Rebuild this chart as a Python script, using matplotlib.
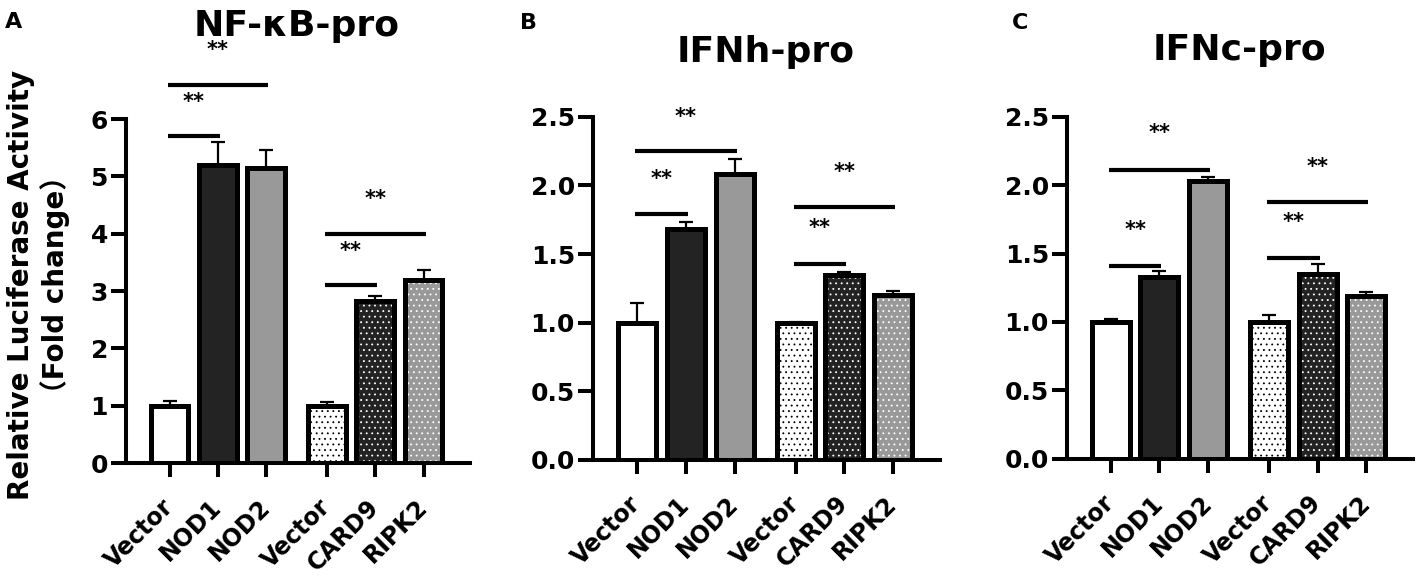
import matplotlib
matplotlib.use('Agg')
import matplotlib.pyplot as plt
from matplotlib.ticker import FormatStrFormatter

plt.rcParams['font.family'] = ['DejaVu Sans', 'Noto Sans CJK SC']
plt.rcParams['hatch.linewidth'] = 0.6

categories = ['Vector', 'NOD1', 'NOD2', 'Vector', 'CARD9', 'RIPK2']
x_pos = [0, 1, 2, 3.25, 4.25, 5.25]

nfkb_mean = [1.0, 5.2, 5.15, 1.0, 2.83, 3.2]
nfkb_err = [0.09, 0.4, 0.31, 0.07, 0.09, 0.17]
ifnh_mean = [1.0, 1.68, 2.08, 1.0, 1.35, 1.2]
ifnh_err = [0.14, 0.05, 0.11, 0.005, 0.02, 0.03]
ifnc_mean = [1.0, 1.33, 2.03, 1.0, 1.35, 1.19]
ifnc_err = [0.02, 0.04, 0.03, 0.05, 0.07, 0.03]

# significance brackets: compared bar pairs, line height, star height
sig_pairs = [(0, 1), (0, 2), (3, 4), (3, 5)]
nfkb_line_y = [5.7, 6.6, 3.1, 4.0]
nfkb_star_y = [6.3, 7.2, 3.7, 4.6]
ifnh_line_y = [1.79, 2.25, 1.43, 1.84]
ifnh_star_y = [2.05, 2.5, 1.69, 2.1]
ifnc_line_y = [1.41, 2.11, 1.47, 1.88]
ifnc_star_y = [1.67, 2.38, 1.73, 2.13]

face_colors = ['white', '#232323', '#999999', 'white', '#232323', '#999999']
dot_colors = [None, None, None, 'black', 'white', 'white']


def draw_panel(ax, means, errs, line_y, star_y, ymax, yticks, fmt):
    for xi, m, fc, dc in zip(x_pos, means, face_colors, dot_colors):
        if dc is not None:
            ax.bar(xi, m, width=0.78, color=fc, edgecolor=dc, linewidth=0,
                   hatch='...', zorder=2)
            ax.bar(xi, m, width=0.78, fill=False, edgecolor='black',
                   linewidth=3.6, zorder=3)
        else:
            ax.bar(xi, m, width=0.78, color=fc, edgecolor='black',
                   linewidth=3.6, zorder=3)
    ax.errorbar(x_pos, means, yerr=[[0] * len(errs), errs], fmt='none',
                ecolor='black', elinewidth=1.6, capsize=4.7, capthick=1.6,
                zorder=1)
    for (i, j), ly, sy in zip(sig_pairs, line_y, star_y):
        ax.plot([x_pos[i] - 0.04, x_pos[j] + 0.04], [ly, ly], color='black',
                lw=3.0, clip_on=False, solid_capstyle='butt')
        ax.text((x_pos[i] + x_pos[j]) / 2, sy, '**', ha='center',
                va='center', fontsize=15, fontweight='bold', clip_on=False)

    ax.set_xlim(-0.9, 6.21)
    ax.set_ylim(0, ymax)
    ax.set_yticks(yticks)
    ax.yaxis.set_major_formatter(FormatStrFormatter(fmt))
    ax.set_xticks(x_pos)
    ax.set_xticklabels(categories, rotation=45, ha='right', va='center',
                       rotation_mode='anchor', fontsize=17, fontweight='bold')
    for lab in ax.get_yticklabels():
        lab.set_fontweight('bold')
        lab.set_fontsize(18)
    ax.spines['top'].set_visible(False)
    ax.spines['right'].set_visible(False)
    ax.spines['left'].set_linewidth(2.9)
    ax.spines['bottom'].set_linewidth(2.9)
    ax.tick_params(axis='y', length=11, width=2.9, pad=2)
    ax.tick_params(axis='x', length=10, width=2.9, pad=19)


fig = plt.figure(figsize=(14.17, 5.87), dpi=100)
ax_a = fig.add_axes([0.0889, 0.2111, 0.2428, 0.5860])
ax_b = fig.add_axes([0.4185, 0.2167, 0.2449, 0.5843])
ax_c = fig.add_axes([0.7530, 0.2187, 0.2442, 0.5823])

draw_panel(ax_a, nfkb_mean, nfkb_err, nfkb_line_y, nfkb_star_y, 6,
           [0, 1, 2, 3, 4, 5, 6], '%d')
draw_panel(ax_b, ifnh_mean, ifnh_err, ifnh_line_y, ifnh_star_y, 2.5,
           [0, 0.5, 1.0, 1.5, 2.0, 2.5], '%.1f')
draw_panel(ax_c, ifnc_mean, ifnc_err, ifnc_line_y, ifnc_star_y, 2.5,
           [0, 0.5, 1.0, 1.5, 2.0, 2.5], '%.1f')

fig.text(0.2096, 0.939, 'NF-κB-pro', ha='center', va='baseline',
         fontsize=26, fontweight='bold')
fig.text(0.5406, 0.895, 'IFNh-pro', ha='center', va='baseline',
         fontsize=26, fontweight='bold')
fig.text(0.875, 0.898, 'IFNc-pro', ha='center', va='baseline',
         fontsize=26, fontweight='bold')

fig.text(0.0035, 0.952, 'A', va='baseline', fontsize=16, fontweight='bold')
fig.text(0.367, 0.950, 'B', va='baseline', fontsize=16, fontweight='bold')
fig.text(0.714, 0.950, 'C', va='baseline', fontsize=16, fontweight='bold')

fig.text(0.0272, 0.515, 'Relative Luciferase Activity\n（Fold change）',
         rotation=90, ha='center', va='center', fontsize=20,
         fontweight='bold', multialignment='center')

fig.savefig('out.png', dpi=100)
